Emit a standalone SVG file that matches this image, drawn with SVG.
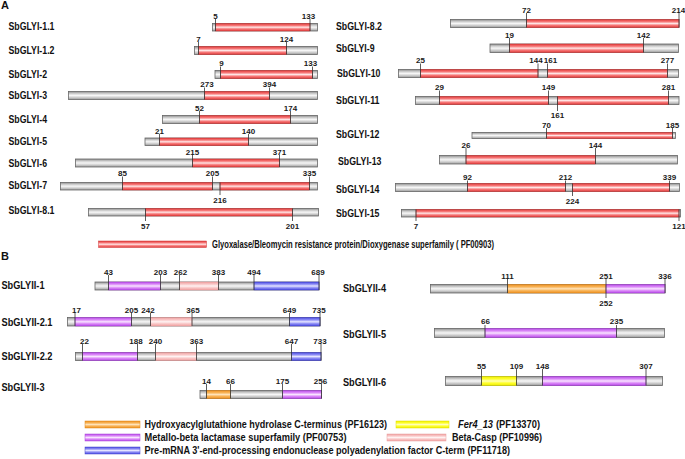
<svg xmlns="http://www.w3.org/2000/svg" width="685" height="459" viewBox="0 0 685 459">
<defs>
<linearGradient id="gGray" x1="0" y1="0" x2="0" y2="1">
<stop offset="0" stop-color="#8e8e8e"/><stop offset="0.3" stop-color="#d6d6d6"/><stop offset="0.5" stop-color="#f6f6f6"/><stop offset="0.72" stop-color="#d2d2d2"/><stop offset="1" stop-color="#9a9a9a"/>
</linearGradient>
<linearGradient id="gRed" x1="0" y1="0" x2="0" y2="1">
<stop offset="0" stop-color="#e03a3a"/><stop offset="0.28" stop-color="#f77a7a"/><stop offset="0.5" stop-color="#ffe4e4"/><stop offset="0.72" stop-color="#f77a7a"/><stop offset="1" stop-color="#e03a3a"/>
</linearGradient>
<linearGradient id="gPur" x1="0" y1="0" x2="0" y2="1">
<stop offset="0" stop-color="#b848e8"/><stop offset="0.28" stop-color="#dc8cf8"/><stop offset="0.5" stop-color="#f8e4ff"/><stop offset="0.72" stop-color="#dc8cf8"/><stop offset="1" stop-color="#b848e8"/>
</linearGradient>
<linearGradient id="gBlue" x1="0" y1="0" x2="0" y2="1">
<stop offset="0" stop-color="#4a4ae0"/><stop offset="0.28" stop-color="#8e8ef6"/><stop offset="0.5" stop-color="#e4e4ff"/><stop offset="0.72" stop-color="#8e8ef6"/><stop offset="1" stop-color="#4a4ae0"/>
</linearGradient>
<linearGradient id="gOr" x1="0" y1="0" x2="0" y2="1">
<stop offset="0" stop-color="#ee9020"/><stop offset="0.28" stop-color="#f8b458"/><stop offset="0.5" stop-color="#ffe2b8"/><stop offset="0.72" stop-color="#f8b458"/><stop offset="1" stop-color="#ee9020"/>
</linearGradient>
<linearGradient id="gYel" x1="0" y1="0" x2="0" y2="1">
<stop offset="0" stop-color="#eeee00"/><stop offset="0.28" stop-color="#ffff30"/><stop offset="0.5" stop-color="#ffffb8"/><stop offset="0.72" stop-color="#ffff30"/><stop offset="1" stop-color="#eeee00"/>
</linearGradient>
<linearGradient id="gPink" x1="0" y1="0" x2="0" y2="1">
<stop offset="0" stop-color="#f0a0a0"/><stop offset="0.28" stop-color="#f9c8c8"/><stop offset="0.5" stop-color="#fff2f2"/><stop offset="0.72" stop-color="#f9c8c8"/><stop offset="1" stop-color="#f0a0a0"/>
</linearGradient>
</defs>
<style>
text{font-family:"Liberation Sans Narrow","Liberation Sans",Arial,sans-serif;font-weight:bold;fill:#111}
.gn{font-size:10.5px}
.n{font-size:8px;text-anchor:middle;fill:#1a1a1a}
.lg{font-size:10px}
.pl{font-size:11px}
.g{fill:url(#gGray);stroke:#666;stroke-width:0.8}
.r{fill:url(#gRed);stroke:#cf3a3a;stroke-width:0.5}
.p{fill:url(#gPur);stroke:#a844d8;stroke-width:0.5}
.b{fill:url(#gBlue);stroke:#4444cc;stroke-width:0.5}
.o{fill:url(#gOr);stroke:#e08818;stroke-width:0.5}
.y{fill:url(#gYel);stroke:#dede00;stroke-width:0.5}
.k{fill:url(#gPink);stroke:#e8a0a0;stroke-width:0.5}
.t{stroke:#333;stroke-width:0.8;fill:none}
</style>
<rect width="685" height="459" fill="#fff"/>
<text class="pl" x="1" y="8.5">A</text>
<text class="pl" x="1" y="259.5">B</text>
<g id="connectors"/>

<!-- Panel A left -->
<g id="SbGLYI-1.1">
<text class="gn" x="8.5" y="30" textLength="46" lengthAdjust="spacingAndGlyphs">SbGLYI-1.1</text>
<rect class="g" x="212.5" y="23.5" width="105" height="7.5"/>
<rect class="r" x="215.5" y="23.5" width="94.5" height="7.5"/>
<path class="t" d="M215.5 19V31M310 19V31"/>
<text class="n" x="215.5" y="18.5">5</text><text class="n" x="308.5" y="18.5">133</text>
</g>
<g id="SbGLYI-1.2">
<text class="gn" x="8.5" y="54" textLength="46" lengthAdjust="spacingAndGlyphs">SbGLYI-1.2</text>
<rect class="g" x="194.5" y="46.5" width="123" height="8"/>
<rect class="r" x="198.5" y="46.5" width="88" height="8"/>
<path class="t" d="M198.5 42V54.5M286.5 42V54.5"/>
<text class="n" x="198.5" y="41.5">7</text><text class="n" x="286.5" y="41.5">124</text>
</g>
<g id="SbGLYI-2">
<text class="gn" x="8.5" y="77.5" textLength="38.5" lengthAdjust="spacingAndGlyphs">SbGLYI-2</text>
<rect class="g" x="215" y="70.5" width="102.5" height="8"/>
<rect class="r" x="220.5" y="70.5" width="92" height="8"/>
<path class="t" d="M220.5 66.5V78.5M312.5 66.5V78.5"/>
<text class="n" x="221.5" y="66">9</text><text class="n" x="310.5" y="66">133</text>
</g>
<g id="SbGLYI-3">
<text class="gn" x="8.5" y="99" textLength="38.5" lengthAdjust="spacingAndGlyphs">SbGLYI-3</text>
<rect class="g" x="68.5" y="91.5" width="249" height="8"/>
<rect class="r" x="204.5" y="91.5" width="65" height="8"/>
<path class="t" d="M204.5 87.5V99.5M269.5 87.5V99.5"/>
<text class="n" x="207" y="87">273</text><text class="n" x="269.5" y="87">394</text>
</g>
<g id="SbGLYI-4">
<text class="gn" x="8.5" y="122.5" textLength="38.5" lengthAdjust="spacingAndGlyphs">SbGLYI-4</text>
<rect class="g" x="162.5" y="115.5" width="155" height="8"/>
<rect class="r" x="199.5" y="115.5" width="91" height="8"/>
<path class="t" d="M199.5 111V123.5M290.5 111V123.5"/>
<text class="n" x="199.5" y="110.5">52</text><text class="n" x="290.5" y="110.5">174</text>
</g>
<g id="SbGLYI-5">
<text class="gn" x="8.5" y="144.5" textLength="38.5" lengthAdjust="spacingAndGlyphs">SbGLYI-5</text>
<rect class="g" x="145" y="138" width="172.5" height="7.5"/>
<rect class="r" x="159.5" y="138" width="89" height="7.5"/>
<path class="t" d="M159.5 134V145.5M248.5 134V145.5"/>
<text class="n" x="159.5" y="133.5">21</text><text class="n" x="248.5" y="133.5">140</text>
</g>
<g id="SbGLYI-6">
<text class="gn" x="8.5" y="166.5" textLength="38.5" lengthAdjust="spacingAndGlyphs">SbGLYI-6</text>
<rect class="g" x="75.5" y="159" width="242" height="8"/>
<rect class="r" x="192.5" y="159" width="87" height="8"/>
<path class="t" d="M192.5 155V167M279.5 155V167"/>
<text class="n" x="192.5" y="154.5">215</text><text class="n" x="279.5" y="154.5">371</text>
</g>
<g id="SbGLYI-7">
<text class="gn" x="8.5" y="189" textLength="38.5" lengthAdjust="spacingAndGlyphs">SbGLYI-7</text>
<rect class="g" x="60.5" y="182.5" width="257" height="7.5"/>
<rect class="r" x="122.5" y="182.5" width="90" height="7.5"/>
<rect class="r" x="220" y="182.5" width="89.5" height="7.5"/>
<path class="t" d="M122.5 176.5V190M212.5 176.5V190M309.5 176.5V190M220 182.5V195"/>
<text class="n" x="122.5" y="176">85</text><text class="n" x="212.5" y="176">205</text><text class="n" x="309.5" y="176">335</text>
<text class="n" x="220" y="202.5">216</text>
</g>
<g id="SbGLYI-8.1">
<text class="gn" x="8.5" y="214" textLength="46" lengthAdjust="spacingAndGlyphs">SbGLYI-8.1</text>
<rect class="g" x="88.5" y="208.5" width="230" height="7.5"/>
<rect class="r" x="145.5" y="208.5" width="147" height="7.5"/>
<path class="t" d="M145.5 208.5V221M292.5 208.5V221"/>
<text class="n" x="145.5" y="228.5">57</text><text class="n" x="292.5" y="228.5">201</text>
</g>

<!-- Panel A right -->
<g id="SbGLYI-8.2">
<text class="gn" x="336" y="30" textLength="46" lengthAdjust="spacingAndGlyphs">SbGLYI-8.2</text>
<rect class="g" x="450.5" y="19.5" width="228.5" height="8"/>
<rect class="r" x="526.5" y="19.5" width="152.5" height="8"/>
<path class="t" d="M526.5 13V27.5M679 13V27.5"/>
<text class="n" x="526.5" y="12.5">72</text><text class="n" x="678.5" y="12.5">214</text>
</g>
<g id="SbGLYI-9">
<text class="gn" x="336" y="51.5" textLength="38.5" lengthAdjust="spacingAndGlyphs">SbGLYI-9</text>
<rect class="g" x="490" y="44" width="188.5" height="8.5"/>
<rect class="r" x="509.5" y="44" width="134" height="8.5"/>
<path class="t" d="M509.5 38V52.5M643.5 38V52.5"/>
<text class="n" x="509.5" y="37.5">19</text><text class="n" x="643.5" y="37.5">142</text>
</g>
<g id="SbGLYI-10">
<text class="gn" x="337" y="77" textLength="43.5" lengthAdjust="spacingAndGlyphs">SbGLYI-10</text>
<rect class="g" x="398.5" y="69.5" width="280" height="8"/>
<rect class="r" x="420.5" y="69.5" width="117.5" height="8"/>
<rect class="r" x="547.5" y="69.5" width="120" height="8"/>
<path class="t" d="M420.5 63.5V77.5M538 63.5V77.5M547.5 63.5V77.5M667.5 63.5V77.5"/>
<text class="n" x="420.5" y="63">25</text><text class="n" x="536" y="63">144</text><text class="n" x="550.5" y="63">161</text><text class="n" x="667.5" y="63">277</text>
</g>
<g id="SbGLYI-11">
<text class="gn" x="336" y="104" textLength="43.5" lengthAdjust="spacingAndGlyphs">SbGLYI-11</text>
<rect class="g" x="415.5" y="96.5" width="263.5" height="8"/>
<rect class="r" x="439.5" y="96.5" width="109" height="8"/>
<rect class="r" x="557.5" y="96.5" width="111" height="8"/>
<path class="t" d="M439.5 90.5V104.5M548.5 90.5V104.5M668.5 90.5V104.5M557.5 96.5V111"/>
<text class="n" x="439.5" y="90">29</text><text class="n" x="548.5" y="90">149</text><text class="n" x="668.5" y="90">281</text>
<text class="n" x="557.5" y="118">161</text>
</g>
<g id="SbGLYI-12">
<text class="gn" x="336" y="138" textLength="43.5" lengthAdjust="spacingAndGlyphs">SbGLYI-12</text>
<rect class="g" x="472" y="132.5" width="203.5" height="6"/>
<rect class="r" x="546.5" y="132.5" width="126" height="6"/>
<path class="t" d="M546.5 128V138.5M672.5 128V138.5"/>
<text class="n" x="546.5" y="127.5">70</text><text class="n" x="672.5" y="127.5">185</text>
</g>
<g id="SbGLYI-13">
<text class="gn" x="338" y="165" textLength="43.5" lengthAdjust="spacingAndGlyphs">SbGLYI-13</text>
<rect class="g" x="439.5" y="155.5" width="238" height="8.5"/>
<rect class="r" x="466" y="155.5" width="129.5" height="8.5"/>
<path class="t" d="M466 148V164M595.5 148V164"/>
<text class="n" x="466" y="147.5">26</text><text class="n" x="595.5" y="147.5">144</text>
</g>
<g id="SbGLYI-14">
<text class="gn" x="336" y="193" textLength="43.5" lengthAdjust="spacingAndGlyphs">SbGLYI-14</text>
<rect class="g" x="395.5" y="183.5" width="284" height="8"/>
<rect class="r" x="467.5" y="183.5" width="98" height="8"/>
<rect class="r" x="572.5" y="183.5" width="97" height="8"/>
<path class="t" d="M467.5 180.5V191.5M565.5 180.5V191.5M669.5 180.5V191.5M572.5 183.5V196"/>
<text class="n" x="467.5" y="180">92</text><text class="n" x="565.5" y="180">212</text><text class="n" x="669.5" y="180">339</text>
<text class="n" x="572.5" y="203.5">224</text>
</g>
<g id="SbGLYI-15">
<text class="gn" x="336" y="217" textLength="43.5" lengthAdjust="spacingAndGlyphs">SbGLYI-15</text>
<rect class="g" x="401.5" y="209.5" width="279" height="7.5"/>
<rect class="r" x="416" y="209.5" width="263" height="7.5"/>
<path class="t" d="M416 209.5V221M679 209.5V221"/>
<text class="n" x="416" y="228.5">7</text><text class="n" x="679" y="228.5">121</text>
</g>

<g id="legend-A">
<rect class="r" x="98.5" y="241" width="108" height="6.5" stroke="none"/>
<text class="lg" x="212" y="247.5" textLength="282" lengthAdjust="spacingAndGlyphs">Glyoxalase/Bleomycin resistance protein/Dioxygenase superfamily ( PF00903)</text>
</g>

<!-- Panel B left -->
<g id="SbGLYII-1">
<text class="gn" x="1.5" y="289" textLength="43" lengthAdjust="spacingAndGlyphs">SbGLYII-1</text>
<rect class="g" x="95" y="282" width="224" height="8"/>
<rect class="p" x="108.5" y="282" width="52" height="8"/>
<rect class="k" x="179.5" y="282" width="39" height="8"/>
<rect class="b" x="254" y="282" width="65" height="8"/>
<path class="t" d="M108.5 275V290M160.5 275V290M179.5 275V290M218.5 275V290M319 275V290"/>
<path class="t" d="M254 275V290" stroke="#999"/>
<text class="n" x="108.5" y="274.5">43</text><text class="n" x="160.5" y="274.5">203</text><text class="n" x="180.5" y="274.5">262</text><text class="n" x="218.5" y="274.5">383</text><text class="n" x="254" y="274.5">494</text><text class="n" x="318" y="274.5">689</text>
</g>
<g id="SbGLYII-2.1">
<text class="gn" x="1.5" y="325.5" textLength="51" lengthAdjust="spacingAndGlyphs">SbGLYII-2.1</text>
<rect class="g" x="67.5" y="317.5" width="252.5" height="8.5"/>
<rect class="p" x="75" y="317.5" width="56.5" height="8.5"/>
<rect class="k" x="150.5" y="317.5" width="41.5" height="8.5"/>
<rect class="b" x="289.5" y="317.5" width="30.5" height="8.5"/>
<path class="t" d="M75 313V326M131.5 313V326M150.5 313V326M192 313V326M289.5 313V326M320 313V326"/>
<text class="n" x="76.5" y="312.5">17</text><text class="n" x="131.5" y="312.5">205</text><text class="n" x="148" y="312.5">242</text><text class="n" x="193" y="312.5">365</text><text class="n" x="289.5" y="312.5">649</text><text class="n" x="319" y="312.5">735</text>
</g>
<g id="SbGLYII-2.2">
<text class="gn" x="1.5" y="359.5" textLength="51" lengthAdjust="spacingAndGlyphs">SbGLYII-2.2</text>
<rect class="g" x="75.5" y="352.5" width="245.5" height="8"/>
<rect class="p" x="82.5" y="352.5" width="55" height="8"/>
<rect class="k" x="155.5" y="352.5" width="41" height="8"/>
<rect class="b" x="291.5" y="352.5" width="29.5" height="8"/>
<path class="t" d="M82.5 344V360.5M137.5 344V360.5M155.5 344V360.5M196.5 344V360.5M291.5 344V360.5M321 344V360.5"/>
<text class="n" x="84.5" y="343.5">22</text><text class="n" x="136" y="343.5">188</text><text class="n" x="155.5" y="343.5">240</text><text class="n" x="196.5" y="343.5">363</text><text class="n" x="291.5" y="343.5">647</text><text class="n" x="320" y="343.5">733</text>
</g>
<g id="SbGLYII-3">
<text class="gn" x="1.5" y="390.5" textLength="43" lengthAdjust="spacingAndGlyphs">SbGLYII-3</text>
<rect class="g" x="200" y="390.5" width="121.5" height="8"/>
<rect class="o" x="206.5" y="390.5" width="24" height="8"/>
<rect class="p" x="282.5" y="390.5" width="39" height="8"/>
<path class="t" d="M206.5 384V398.5M230.5 384V398.5M282.5 384V398.5M321.5 384V398.5"/>
<text class="n" x="206.5" y="383.5">14</text><text class="n" x="230.5" y="383.5">66</text><text class="n" x="282.5" y="383.5">175</text><text class="n" x="320.5" y="383.5">256</text>
</g>

<!-- Panel B right -->
<g id="SbGLYII-4">
<text class="gn" x="343" y="291.5" textLength="43" lengthAdjust="spacingAndGlyphs">SbGLYII-4</text>
<rect class="g" x="430.5" y="284.5" width="234.5" height="8.5"/>
<rect class="o" x="507.5" y="284.5" width="98.5" height="8.5"/>
<rect class="p" x="606" y="284.5" width="59" height="8.5"/>
<path class="t" d="M507.5 279V293M606 279V298M665 279V293"/>
<text class="n" x="507.5" y="278.5">111</text><text class="n" x="606" y="278.5">251</text><text class="n" x="665" y="278.5">336</text>
<text class="n" x="606" y="305.5">252</text>
</g>
<g id="SbGLYII-5">
<text class="gn" x="343" y="338" textLength="43" lengthAdjust="spacingAndGlyphs">SbGLYII-5</text>
<rect class="g" x="434.5" y="328.5" width="230" height="9"/>
<rect class="p" x="485" y="328.5" width="131.5" height="9"/>
<path class="t" d="M485 325V337.5M616.5 325V337.5"/>
<text class="n" x="485.5" y="324">66</text><text class="n" x="616.5" y="324">235</text>
</g>
<g id="SbGLYII-6">
<text class="gn" x="343" y="385.5" textLength="43" lengthAdjust="spacingAndGlyphs">SbGLYII-6</text>
<rect class="g" x="445.5" y="376.5" width="217" height="9"/>
<rect class="y" x="481.5" y="376.5" width="35" height="9"/>
<rect class="p" x="542.5" y="376.5" width="103.5" height="9"/>
<path class="t" d="M481.5 369V385.5M516.5 369V385.5M542.5 369V385.5M646 369V385.5"/>
<text class="n" x="481.5" y="368.5">55</text><text class="n" x="516.5" y="368.5">109</text><text class="n" x="542.5" y="368.5">148</text><text class="n" x="646" y="368.5">307</text>
</g>

<g id="legend-B">
<rect class="o" x="85" y="421" width="55" height="7" stroke="none"/>
<text class="lg" x="144.5" y="428" textLength="242.5" lengthAdjust="spacingAndGlyphs">Hydroxyacylglutathione hydrolase C-terminus (PF16123)</text>
<rect class="y" x="396" y="421" width="53" height="7" stroke="none"/>
<text class="lg" x="458" y="428" font-style="italic" textLength="35" lengthAdjust="spacingAndGlyphs">Fer4_13</text>
<text class="lg" x="496" y="428" textLength="44" lengthAdjust="spacingAndGlyphs">(PF13370)</text>
<rect class="p" x="85" y="434" width="55" height="7" stroke="none"/>
<text class="lg" x="144.5" y="441" textLength="202" lengthAdjust="spacingAndGlyphs">Metallo-beta lactamase superfamily (PF00753)</text>
<rect class="k" x="387" y="434" width="59" height="7" stroke="none"/>
<text class="lg" x="452" y="441" textLength="90" lengthAdjust="spacingAndGlyphs">Beta-Casp (PF10996)</text>
<rect class="b" x="85" y="447" width="55" height="7" stroke="none"/>
<text class="lg" x="144.5" y="454" textLength="365.5" lengthAdjust="spacingAndGlyphs">Pre-mRNA 3'-end-processing endonuclease polyadenylation factor C-term (PF11718)</text>
</g>
</svg>
